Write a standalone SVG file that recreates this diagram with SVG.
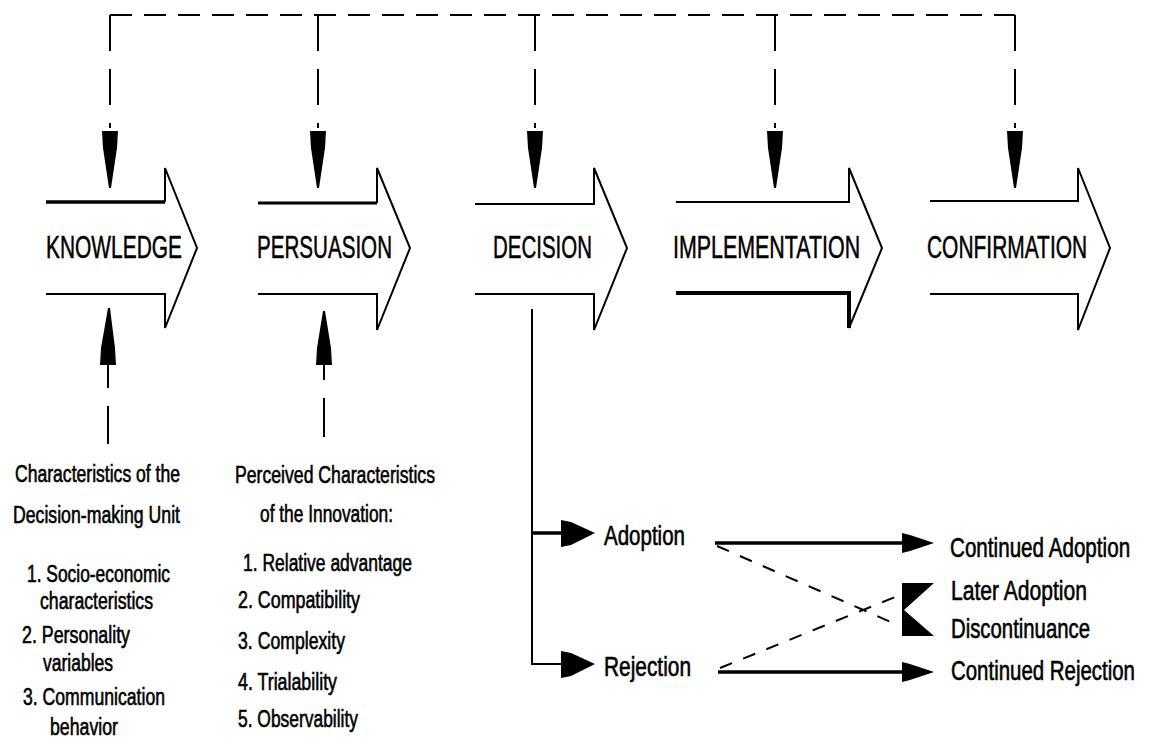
<svg xmlns="http://www.w3.org/2000/svg" width="1152" height="740" viewBox="0 0 1152 740">
<style>
.bg{fill:#fff}
.stage{fill:none;stroke:#000;stroke-width:2;stroke-linejoin:miter}
.thick{fill:none;stroke:#000;stroke-width:3.5}
.thin{fill:none;stroke:#000;stroke-width:2}
.dashh{fill:none;stroke:#000;stroke-width:2;stroke-dasharray:22 12}
.dashv{fill:none;stroke:#000;stroke-width:2;stroke-dasharray:36 18}
.dashd{fill:none;stroke:#000;stroke-width:2;stroke-dasharray:13 12}
.head{fill:#000;stroke:none}
text{font-family:"Liberation Sans",Arial,sans-serif;fill:#000;stroke:#000;stroke-width:0.6}
.lbl{font-size:31px;stroke-width:0.5}
.list{font-size:23px}
.out{font-size:27px}
</style>
<rect class="bg" x="0" y="0" width="1152" height="740"/>

<g id="connectors">
  <!-- top feedback dashed line -->
  <line class="dashh" x1="110" y1="15" x2="1015" y2="15"/>
  <line class="dashv" x1="110" y1="15" x2="110" y2="128"/>
  <line class="dashv" x1="318" y1="15" x2="318" y2="128"/>
  <line class="dashv" x1="535" y1="15" x2="535" y2="128"/>
  <line class="dashv" x1="775" y1="15" x2="775" y2="128"/>
  <line class="dashv" x1="1015" y1="15" x2="1015" y2="128"/>
  <polygon class="head" points="102,131 118,131 117,148 111,188 109,188 103,148"/>
  <polygon class="head" points="310,131 326,131 325,148 319,188 317,188 311,148"/>
  <polygon class="head" points="527,131 543,131 542,148 536,188 534,188 528,148"/>
  <polygon class="head" points="767,131 783,131 782,148 776,188 774,188 768,148"/>
  <polygon class="head" points="1007,131 1023,131 1022,148 1016,188 1014,188 1008,148"/>

  <!-- upward arrows from characteristics -->
  <polygon class="head" points="108,308 110,308 115,348 116,365 100,365 101,348"/>
  <line class="thin" x1="108" y1="365" x2="108" y2="388"/>
  <line class="thin" x1="108" y1="406" x2="108" y2="444"/>
  <polygon class="head" points="323,311 325,311 331,348 332,365 316,365 317,348"/>
  <line class="thin" x1="324" y1="365" x2="324" y2="380"/>
  <line class="thin" x1="324" y1="398" x2="324" y2="437"/>

  <!-- decision branch -->
  <line class="thin" x1="532" y1="309" x2="532" y2="665"/>
  <line class="thick" x1="531" y1="533" x2="562" y2="533"/>
  <line class="thin" x1="531" y1="664" x2="562" y2="664"/>
  <polygon class="head" points="561,520 571,522 595,533 571,545 561,547"/>
  <polygon class="head" points="561,651 571,653 595,664 571,676 561,678"/>

  <!-- outcomes -->
  <line class="thick" x1="715" y1="543" x2="904" y2="543"/>
  <polygon class="head" points="902,533 910,535 934,543 910,551 902,553"/>
  <line class="thick" x1="718" y1="672" x2="904" y2="672"/>
  <polygon class="head" points="902,662 910,664 934,672 910,680 902,682"/>
  <line class="dashd" x1="717" y1="546" x2="900" y2="626"/>
  <line class="dashd" x1="720" y1="668" x2="900" y2="595"/>
  <polygon class="head" points="902,583 934,583 904,610 902,610"/>
  <polygon class="head" points="904,610 934,636 902,636 902,610"/>
</g>

<g id="knowledge">
  <path class="stage" style="stroke-width:3.5" d="M46,202 L165,202"/>
  <path class="stage" d="M165,202 L165,168 L197,248 L165,328 L165,294 L46,294"/>
  <text class="lbl" x="46" y="258" textLength="136" lengthAdjust="spacingAndGlyphs">KNOWLEDGE</text>
</g>

<g id="persuasion">
  <path class="stage" style="stroke-width:3" d="M258,203 L377,203"/>
  <path class="stage" d="M377,203 L377,168 L410,248 L377,330 L377,294 L258,294"/>
  <text class="lbl" x="257" y="258" textLength="135" lengthAdjust="spacingAndGlyphs">PERSUASION</text>
</g>

<g id="decision">
  <path class="stage" d="M475,204 L594,204 L594,168 L627,248 L594,330 L594,294 L475,294"/>
  <text class="lbl" x="493" y="258" textLength="99" lengthAdjust="spacingAndGlyphs">DECISION</text>
</g>

<g id="implementation">
  <path class="stage" d="M676,202 L849,202 L849,168 L882,248 L849,328"/>
  <path class="stage" style="stroke-width:4" d="M849,328 L849,293 L676,293"/>
  <text class="lbl" transform="translate(673,258) scale(0.678,1)" x="0" y="0" textLength="276" lengthAdjust="spacingAndGlyphs">IMPLEMENTATION</text>
</g>

<g id="confirmation">
  <path class="stage" d="M930,201 L1078,201 L1078,168 L1110,248 L1078,330 L1078,294 L930,294"/>
  <text class="lbl" transform="translate(927,258) scale(0.67,1)" x="0" y="0" textLength="239" lengthAdjust="spacingAndGlyphs">CONFIRMATION</text>
</g>

<g id="decision-unit-characteristics">
  <text class="list" x="15" y="482" textLength="165" lengthAdjust="spacingAndGlyphs">Characteristics of the</text>
  <text class="list" x="13" y="523" textLength="167" lengthAdjust="spacingAndGlyphs">Decision-making Unit</text>
  <text class="list" x="27" y="582" textLength="143" lengthAdjust="spacingAndGlyphs">1. Socio-economic</text>
  <text class="list" x="40" y="609" textLength="113" lengthAdjust="spacingAndGlyphs">characteristics</text>
  <text class="list" x="22" y="643" textLength="108" lengthAdjust="spacingAndGlyphs">2. Personality</text>
  <text class="list" x="43" y="671" textLength="70" lengthAdjust="spacingAndGlyphs">variables</text>
  <text class="list" x="23" y="705" textLength="142" lengthAdjust="spacingAndGlyphs">3. Communication</text>
  <text class="list" x="50" y="735" textLength="68" lengthAdjust="spacingAndGlyphs">behavior</text>
</g>

<g id="innovation-characteristics">
  <text class="list" x="235" y="483" textLength="200" lengthAdjust="spacingAndGlyphs">Perceived Characteristics</text>
  <text class="list" x="260" y="522" textLength="133" lengthAdjust="spacingAndGlyphs">of the Innovation:</text>
  <text class="list" x="243" y="571" textLength="169" lengthAdjust="spacingAndGlyphs">1. Relative advantage</text>
  <text class="list" x="238" y="608" textLength="122" lengthAdjust="spacingAndGlyphs">2. Compatibility</text>
  <text class="list" x="238" y="649" textLength="107" lengthAdjust="spacingAndGlyphs">3. Complexity</text>
  <text class="list" x="238" y="690" textLength="99" lengthAdjust="spacingAndGlyphs">4. Trialability</text>
  <text class="list" x="238" y="727" textLength="120" lengthAdjust="spacingAndGlyphs">5. Observability</text>
</g>

<g id="adoption"><text class="out" x="604" y="545" textLength="81" lengthAdjust="spacingAndGlyphs">Adoption</text></g>
<g id="rejection"><text class="out" x="604" y="676" textLength="87" lengthAdjust="spacingAndGlyphs">Rejection</text></g>
<g id="continued-adoption"><text class="out" transform="translate(950,557) scale(0.76,1)" x="0" y="0" textLength="237" lengthAdjust="spacingAndGlyphs">Continued Adoption</text></g>
<g id="later-adoption"><text class="out" x="951" y="600" textLength="136" lengthAdjust="spacingAndGlyphs">Later Adoption</text></g>
<g id="discontinuance"><text class="out" x="951" y="638" textLength="139" lengthAdjust="spacingAndGlyphs">Discontinuance</text></g>
<g id="continued-rejection"><text class="out" transform="translate(951,680) scale(0.757,1)" x="0" y="0" textLength="243" lengthAdjust="spacingAndGlyphs">Continued Rejection</text></g>
</svg>
